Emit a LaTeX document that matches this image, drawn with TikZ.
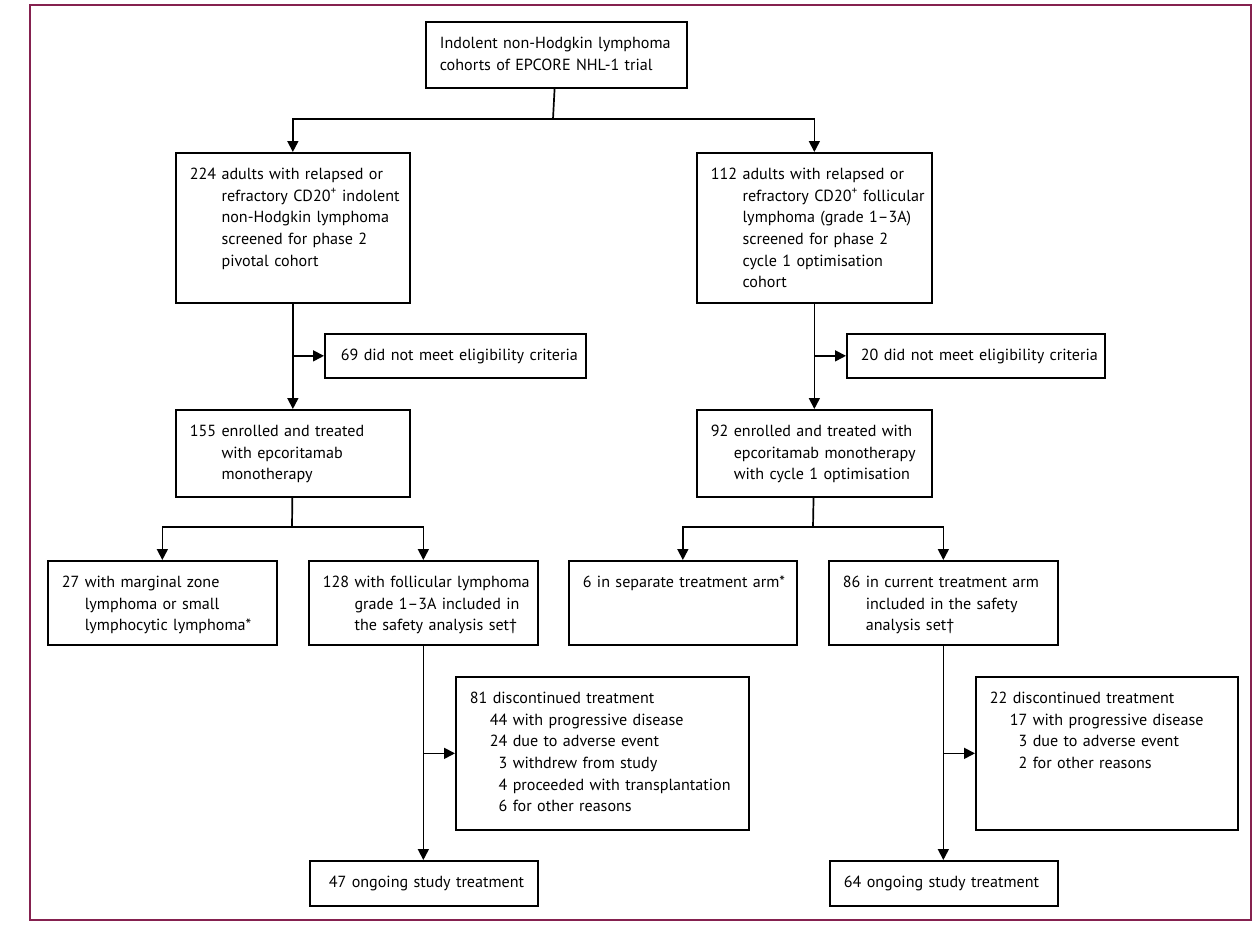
\documentclass[tikz,border=0pt]{standalone}
\usepackage{fontspec}
\setmainfont{PT Sans}
\usepackage{tikz}
\usetikzlibrary{arrows.meta}
\definecolor{framered}{HTML}{85214F}
\newlength{\numw}
% leading number, later lines indented to its width
\newcommand{\hangnum}[1]{\global\settowidth{\numw}{#1\ }#1\ }
\newcommand{\nl}{\newline\hspace*{\numw}}
\newcommand{\subline}{\newline\hspace*{20pt}}
\tikzset{
  every picture/.style={line join=miter, line cap=butt},
  box/.style={draw, line width=1.7pt, anchor=north west,
    inner xsep=0pt, inner ysep=0pt, text height=26.5pt,
    font=\fontsize{16.1}{21.7}\selectfont,
    execute at begin node={\leftskip=14pt\rightskip=0pt plus 1fil
      \parfillskip=0pt plus 1fil\hyphenpenalty=10000\exhyphenpenalty=10000}},
  flow/.style={line width=1.7pt},
  arr/.style={flow, -{Triangle[width=11pt,length=11pt]}},
}

\begin{document}
\begin{tikzpicture}[x=1pt, y=-1pt]
\useasboundingbox (0,0) rectangle (1253,932);
\draw[framered, line width=1.2pt] (30,5) rectangle (1251,920);

% Top box
\node[box, text width=261pt, text depth=39.5pt] (top) at (425,21)
  {Indolent non-Hodgkin lymphoma\newline cohorts of EPCORE NHL-1 trial};

% Screened cohorts
\node[box, text width=234pt, text depth=123.5pt] (piv) at (175,152)
  {\hangnum{224}adults with relapsed or\nl refractory CD20\textsuperscript{+} indolent\nl non-Hodgkin lymphoma\nl screened for phase 2\nl pivotal cohort};
\node[box, text width=235pt, text depth=123.5pt] (opt) at (696,152)
  {\hangnum{112}adults with relapsed or\nl refractory CD20\textsuperscript{+} follicular\nl lymphoma (grade 1–3A)\nl screened for phase 2\nl cycle 1 optimisation\nl cohort};

% Not eligible
\node[box, text width=261pt, text depth=17.5pt] (pivex) at (324,333)
  {\hspace*{2pt}69 did not meet eligibility criteria};
\node[box, text width=258pt, text depth=17.5pt] (optex) at (846,333)
  {20 did not meet eligibility criteria};

% Enrolled
\node[box, text width=234pt, text depth=60.5pt] (pivenr) at (175,409)
  {\hangnum{155}enrolled and treated\nl with epcoritamab\nl monotherapy};
\node[box, text width=235pt, text depth=60.5pt] (optenr) at (696,409)
  {\hangnum{92}enrolled and treated with\nl epcoritamab monotherapy\nl with cycle 1 optimisation};

% Analysis sets
\node[box, text width=229pt, text depth=57.5pt] (mzl) at (47,560)
  {\hangnum{27}with marginal zone\nl lymphoma or small\nl lymphocytic lymphoma*};
\node[box, text width=229pt, text depth=57.5pt] (pivfl) at (308,560)
  {\hangnum{128}with follicular lymphoma\nl grade 1–3A included in\nl the safety analysis set\textdagger};
\node[box, text width=228pt, text depth=57.5pt] (sep) at (568,560)
  {6 in separate treatment arm*};
\node[box, text width=229pt, text depth=57.5pt] (optfl) at (828,560)
  {\hangnum{86}in current treatment arm\nl included in the safety\nl analysis set\textdagger};

% Discontinued
\node[box, text width=293pt, text depth=126.5pt] (pivdis) at (455,676)
  {81 discontinued treatment\subline 44 with progressive disease\subline 24 due to adverse event\subline \phantom{0}3 withdrew from study\subline \phantom{0}4 proceeded with transplantation\subline \phantom{0}6 for other reasons};
\node[box, text width=262pt, text depth=126.5pt] (optdis) at (975,676)
  {22 discontinued treatment\subline 17 with progressive disease\subline \phantom{0}3 due to adverse event\subline \phantom{0}2 for other reasons};

% Ongoing
\node[box, text width=228pt, text depth=18.5pt] (pivon) at (309,860)
  {\hspace*{5pt}47 ongoing study treatment};
\node[box, text width=228pt, text depth=18.5pt] (opton) at (829,860)
  {64 ongoing study treatment};

% Connectors
\coordinate (split) at (553,119);
\draw[flow] (top) -- (split);
\draw[arr] (split) -| (piv);
\draw[arr] (split) -| (opt);
\draw[arr] (piv) -- (pivenr);
\draw[arr] (piv.south |- pivex.west) -- (pivex);
\draw[arr] (opt) -- (optenr);
\draw[arr] (opt.south |- optex.west) -- (optex);

\coordinate (pivsplit) at (292,527);
\coordinate (optsplit) at (813,527);
\draw[flow] (pivenr) -- (pivsplit);
\draw[arr] (pivsplit) -| (mzl);
\draw[arr] (pivsplit) -| (pivfl);
\draw[flow] (optenr) -- (optsplit);
\draw[arr] (optsplit) -| (sep);
\draw[arr] (optsplit) -| (optfl);

\draw[arr] (pivfl) -- (pivfl |- pivon.north);
\draw[arr] (pivfl.south |- pivdis.west) -- (pivdis);
\draw[arr] (optfl) -- (optfl |- opton.north);
\draw[arr] (optfl.south |- optdis.west) -- (optdis);
\end{tikzpicture}
\end{document}
